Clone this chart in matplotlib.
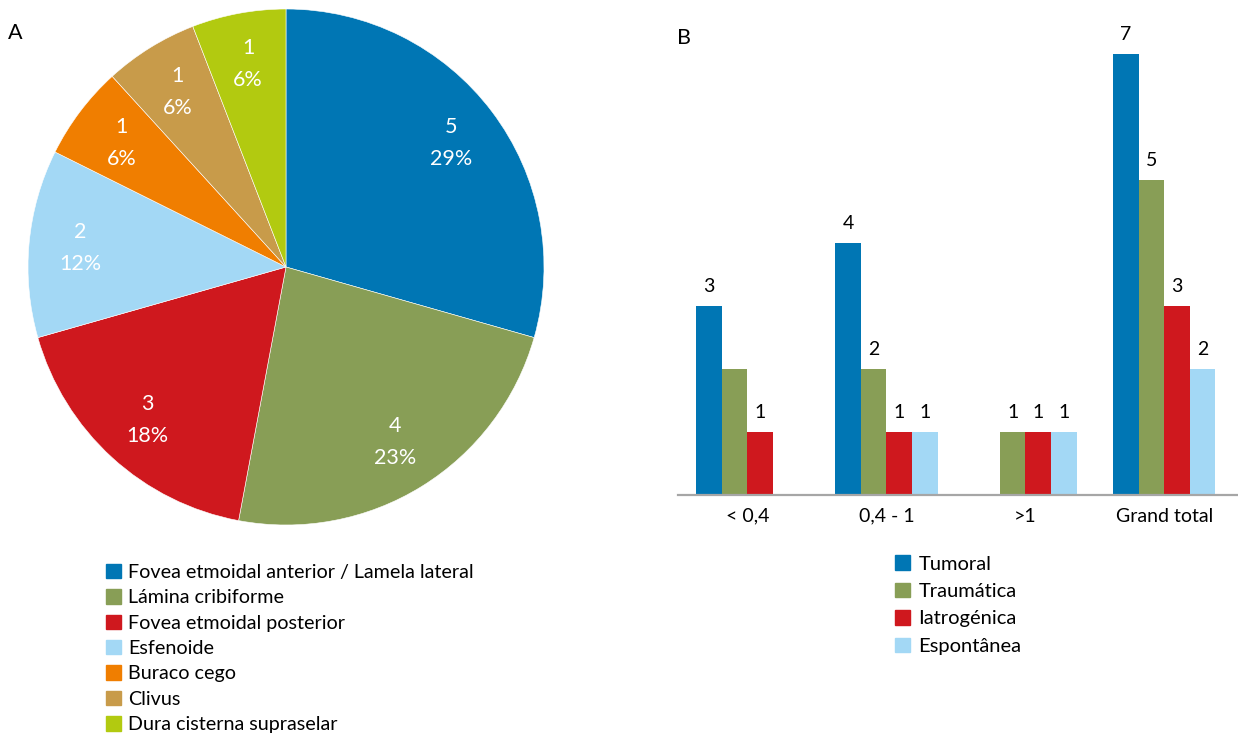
import numpy as np
import matplotlib.pyplot as plt
from matplotlib.patches import Patch

plt.rcParams['font.family'] = ['Lato', 'DejaVu Sans']

# pie data
locais = ['Fovea etmoidal anterior / Lamela lateral', 'Lámina cribiforme',
          'Fovea etmoidal posterior', 'Esfenoide', 'Buraco cego', 'Clivus',
          'Dura cisterna supraselar']
n_casos = [5, 4, 3, 2, 1, 1, 1]
cores_pie = ['#0076B4', '#889E56', '#CF181E', '#A3D8F5', '#F07E00', '#C89B4A', '#B2CA10']

# bar data
grupos = ['< 0,4', '0,4 - 1', '>1', 'Grand total']
etiologias = ['Tumoral', 'Traumática', 'Iatrogénica', 'Espontânea']
tumoral = [3, 4, 0, 7]
traumatica = [2, 2, 1, 5]
iatrogenica = [1, 1, 1, 3]
espontanea = [0, 1, 1, 2]
cores_bar = ['#0076B4', '#889E56', '#CF181E', '#A3D8F5']
sem_rotulo = {(1, 0)}  # (series, group) without data label


def pct_inteiros(vals):
    # largest remainder so the percentages add up to 100
    v = np.array(vals, float) * 100 / sum(vals)
    base = np.floor(v).astype(int)
    resto = 100 - base.sum()
    ordem = np.argsort(-(v - base), kind='stable')
    base[ordem[:resto]] += 1
    return base


fig = plt.figure(figsize=(12.38, 7.37), dpi=100)
W, H = 1238, 737

# ---- A: pie ----
axp = fig.add_axes([28 / W, 1 - 525 / H, 516 / W, 516 / H])
wedges, _ = axp.pie(n_casos, colors=cores_pie, startangle=90, counterclock=False,
                    radius=1, wedgeprops=dict(edgecolor='white', linewidth=0.4))
pcts = pct_inteiros(n_casos)
for w, n, p in zip(wedges, n_casos, pcts):
    ang = np.deg2rad((w.theta1 + w.theta2) / 2)
    axp.text(0.8 * np.cos(ang), 0.8 * np.sin(ang), f'{n}\n{p}%', color='white',
             ha='center', va='center', fontsize=15.5, linespacing=1.75)
axp.set_xlim(-1, 1)
axp.set_ylim(-1, 1)
axp.set_aspect('equal')
axp.axis('off')

fig.text(8 / W, 1 - 33 / H, 'A', fontsize=15.5, va='center', ha='left')
fig.legend([Patch(color=c) for c in cores_pie], locais, loc='upper left',
           bbox_to_anchor=(88 / W, 1 - 546 / H), frameon=False, fontsize=14.2,
           handlelength=0.75, handleheight=0.75, handletextpad=0.4, labelspacing=0.42)

# ---- B: grouped bars ----
axb = fig.add_axes([678 / W, 1 - 495 / H, 560 / W, 473 / H])
x = np.arange(len(grupos))
larg = 0.184
series = [tumoral, traumatica, iatrogenica, espontanea]
for i, (vals, c) in enumerate(zip(series, cores_bar)):
    pos = x + (i - 1.5) * larg
    axb.bar(pos, vals, width=larg, color=c, label=etiologias[i])
    for j, v in enumerate(vals):
        if v == 0 or (i, j) in sem_rotulo:
            continue
        axb.text(pos[j], v + 0.17, str(v), ha='center', va='bottom', fontsize=14)

axb.set_xlim(-0.5, 3.53)
axb.set_ylim(0, 7.5)
axb.set_xticks(x, grupos, fontsize=14)
axb.tick_params(axis='x', length=0, pad=9)
axb.set_yticks([])
for s in ['left', 'right', 'top']:
    axb.spines[s].set_visible(False)
axb.spines['bottom'].set_color('#A6A6A6')
axb.spines['bottom'].set_linewidth(1.6)

fig.text(677 / W, 1 - 38 / H, 'B', fontsize=15.5, va='center', ha='left')
fig.legend([Patch(color=c) for c in cores_bar], etiologias, loc='upper left',
           bbox_to_anchor=(877 / W, 1 - 537 / H), frameon=False, fontsize=14.5,
           handlelength=0.75, handleheight=0.75, handletextpad=0.4, labelspacing=0.5)

fig.savefig('out.png', dpi=100)
